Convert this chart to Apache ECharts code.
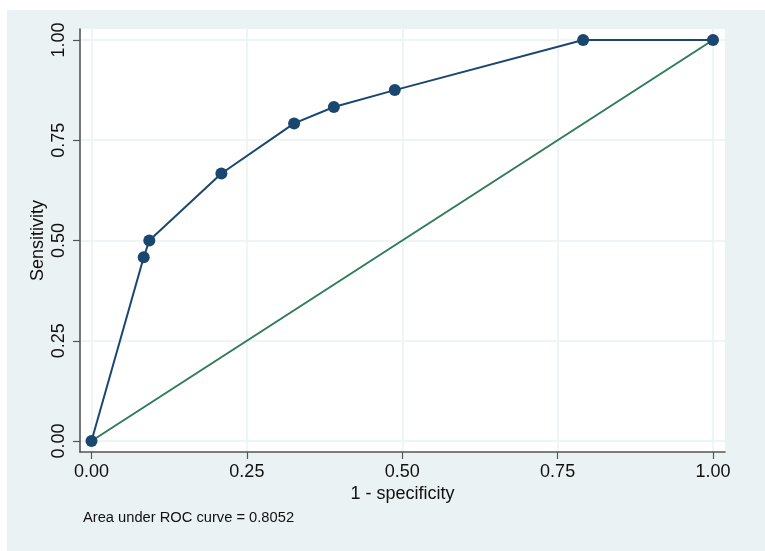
<!DOCTYPE html>
<html>
<head>
<meta charset="utf-8">
<script src="https://cdn.jsdelivr.net/npm/echarts@6/dist/echarts.min.js"></script>
<style>
html,body{margin:0;padding:0;background:#ffffff;width:765px;height:551px;overflow:hidden;}
#chart{position:absolute;left:7px;top:10px;width:758px;height:541px;background:#EAF2F3;}
</style>
</head>
<body>
<div id="chart"></div>
<script>
// Data
const falsePositiveRate = [0, 0.084, 0.093, 0.209, 0.326, 0.390, 0.488, 0.791, 1];
const sensitivity       = [0, 0.458, 0.500, 0.667, 0.792, 0.833, 0.875, 1.000, 1];
const referenceX = [0, 1];
const referenceY = [0, 1];
const tickValues = [0, 0.25, 0.5, 0.75, 1];
const xTitle = '1 - specificity';
const yTitle = 'Sensitivity';
const noteText = 'Area under ROC curve = 0.8052';

const FONT = '"Liberation Sans", Arial, Helvetica, sans-serif';
const chart = echarts.init(document.getElementById('chart'), null, {renderer: 'canvas'});

const rocData = falsePositiveRate.map((x, i) => [x, sensitivity[i]]);
const refData = referenceX.map((x, i) => [x, referenceY[i]]);

const axisCommon = {
  type: 'value',
  axisLine: {show: true, onZero: false, lineStyle: {color: '#555555', width: 1.6}},
  axisTick: {show: true, length: 7, customValues: tickValues, lineStyle: {color: '#555555', width: 1.2}},
  splitLine: {show: true, lineStyle: {color: '#EAF2F3', width: 1.5}},
  axisLabel: {customValues: tickValues, color: '#111', fontFamily: FONT, fontSize: 18,
              formatter: v => v.toFixed(2)},
  nameLocation: 'middle',
  nameMoveOverlap: false,
  nameTextStyle: {color: '#111', fontFamily: FONT, fontSize: 18}
};

chart.setOption({
  backgroundColor: '#EAF2F3',
  animation: false,
  title: {
    text: noteText, left: 76, top: 500, padding: 0,
    textStyle: {color: '#111', fontFamily: FONT, fontSize: 14.7, fontWeight: 'normal'}
  },
  grid: {left: 73, right: 40, top: 19, bottom: 99, show: true, backgroundColor: '#ffffff', borderWidth: 0},
  xAxis: Object.assign({}, axisCommon, {
    min: -0.0185, max: 1.0193,
    name: xTitle, nameGap: 33,
    axisLabel: Object.assign({}, axisCommon.axisLabel, {margin: 11})
  }),
  yAxis: Object.assign({}, axisCommon, {
    min: -0.0274, max: 1.0274,
    name: yTitle, nameGap: 33, nameRotate: 90,
    axisLabel: Object.assign({}, axisCommon.axisLabel, {rotate: 90, margin: 12})
  }),
  series: [
    {
      type: 'line', data: refData, showSymbol: false, symbol: 'none',
      lineStyle: {color: '#2F7B5C', width: 2}, z: 2
    },
    {
      type: 'line', data: rocData, symbol: 'circle', symbolSize: 12,
      itemStyle: {color: '#1A476F'},
      lineStyle: {color: '#1A476F', width: 2}, z: 3
    }
  ]
});
</script>
</body>
</html>
